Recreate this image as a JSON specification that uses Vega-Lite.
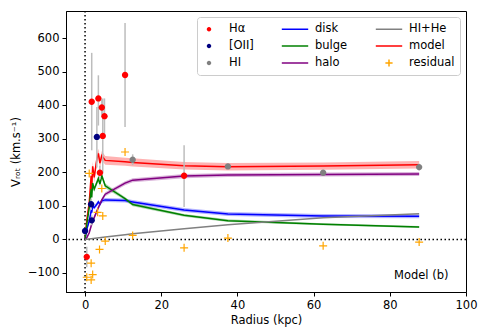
{
  "$schema": "https://vega.github.io/schema/vega-lite/v6.json",
  "width": 400,
  "height": 281,
  "autosize": "none",
  "padding": {"left": 66, "top": 11, "right": 20, "bottom": 42},
  "background": "white",
  "config": {
    "view": {"stroke": "black", "strokeWidth": 1},
    "font": "DejaVu Sans",
    "axis": {"labelFont": "DejaVu Sans", "labelFontSize": 11.5, "labelColor": "black", "titleFont": "DejaVu Sans", "titleFontSize": 11.5, "titleFontWeight": "normal", "titleColor": "black", "domainColor": "black", "tickColor": "black", "grid": false, "tickSize": 4, "labelPadding": 3, "labelFlush": false, "labelOverlap": false}
  },
  "datasets": {
    "obs": [
      {"r": 0.45, "v": -52, "lo": -83, "hi": -22, "series": "Hα"},
      {"r": 1.75, "v": 411, "lo": 266, "hi": 557, "series": "Hα"},
      {"r": 3.5, "v": 421, "lo": 340, "hi": 490, "series": "Hα"},
      {"r": 4.4, "v": 394, "lo": 370, "hi": 418, "series": "Hα"},
      {"r": 5.1, "v": 368, "lo": 315, "hi": 421, "series": "Hα"},
      {"r": 4.65, "v": 309, "lo": 197, "hi": 421, "series": "Hα"},
      {"r": 3.9, "v": 199, "lo": 180, "hi": 220, "series": "Hα"},
      {"r": 10.5, "v": 491, "lo": 336, "hi": 646, "series": "Hα"},
      {"r": 26, "v": 190, "lo": 97, "hi": 281, "series": "Hα"},
      {"r": 0, "v": 25, "lo": 15, "hi": 35, "series": "[OII]"},
      {"r": 1.75, "v": 57, "lo": 42, "hi": 72, "series": "[OII]"},
      {"r": 1.6, "v": 105, "lo": 88, "hi": 122, "series": "[OII]"},
      {"r": 3.1, "v": 306, "lo": 215, "hi": 395, "series": "[OII]"},
      {"r": 12.5, "v": 238, "lo": 222, "hi": 254, "series": "HI"},
      {"r": 37.5, "v": 218, "lo": 212, "hi": 224, "series": "HI"},
      {"r": 62.5, "v": 199, "lo": 195, "hi": 203, "series": "HI"},
      {"r": 87.7, "v": 216, "lo": 206, "hi": 226, "series": "HI"}
    ],
    "resid": [
      {"r": 10.5, "v": 261}, {"r": 12.5, "v": 12}, {"r": 26, "v": -25}, {"r": 37.5, "v": 4},
      {"r": 62.5, "v": -19}, {"r": 87.7, "v": -8}, {"r": 4.65, "v": 70}, {"r": 3.3, "v": 81},
      {"r": 3.8, "v": -30}, {"r": 5.3, "v": -5}, {"r": 1.6, "v": -71}, {"r": 2.0, "v": -105},
      {"r": 0.45, "v": -113}, {"r": 1.6, "v": -121}, {"r": 4.4, "v": 152}, {"r": 1.1, "v": 197}
    ],
    "comp": [
      {"r": 0, "series": "model", "v": 0, "lo": 0, "hi": 0},
      {"r": 0.45, "series": "model", "v": 57, "lo": 45, "hi": 69},
      {"r": 1.1, "series": "model", "v": 110, "lo": 97, "hi": 123},
      {"r": 1.6, "series": "model", "v": 190, "lo": 176, "hi": 204},
      {"r": 1.75, "series": "model", "v": 150, "lo": 136, "hi": 164},
      {"r": 2.0, "series": "model", "v": 218, "lo": 204, "hi": 232},
      {"r": 2.4, "series": "model", "v": 185, "lo": 171, "hi": 199},
      {"r": 3.1, "series": "model", "v": 240, "lo": 226, "hi": 254},
      {"r": 3.5, "series": "model", "v": 257, "lo": 243, "hi": 271},
      {"r": 3.9, "series": "model", "v": 228, "lo": 214, "hi": 242},
      {"r": 4.4, "series": "model", "v": 250, "lo": 236, "hi": 264},
      {"r": 5.3, "series": "model", "v": 236, "lo": 223, "hi": 249},
      {"r": 10.5, "series": "model", "v": 232, "lo": 220, "hi": 244},
      {"r": 12.5, "series": "model", "v": 230, "lo": 218, "hi": 242},
      {"r": 26, "series": "model", "v": 220, "lo": 209, "hi": 231},
      {"r": 37.5, "series": "model", "v": 217, "lo": 206, "hi": 228},
      {"r": 62.5, "series": "model", "v": 219, "lo": 208, "hi": 230},
      {"r": 87.7, "series": "model", "v": 223, "lo": 212, "hi": 234},
      {"r": 0, "series": "disk", "v": 0, "lo": 0, "hi": 0},
      {"r": 0.45, "series": "disk", "v": 30, "lo": 25, "hi": 35},
      {"r": 1.1, "series": "disk", "v": 55, "lo": 49, "hi": 61},
      {"r": 1.6, "series": "disk", "v": 85, "lo": 79, "hi": 91},
      {"r": 1.75, "series": "disk", "v": 80, "lo": 74, "hi": 86},
      {"r": 2.0, "series": "disk", "v": 100, "lo": 94, "hi": 106},
      {"r": 2.4, "series": "disk", "v": 95, "lo": 89, "hi": 101},
      {"r": 3.1, "series": "disk", "v": 105, "lo": 99, "hi": 111},
      {"r": 3.5, "series": "disk", "v": 112, "lo": 106, "hi": 118},
      {"r": 3.9, "series": "disk", "v": 105, "lo": 99, "hi": 111},
      {"r": 4.4, "series": "disk", "v": 115, "lo": 109, "hi": 121},
      {"r": 5.3, "series": "disk", "v": 118, "lo": 112, "hi": 124},
      {"r": 10.5, "series": "disk", "v": 116, "lo": 110, "hi": 122},
      {"r": 12.5, "series": "disk", "v": 112, "lo": 106, "hi": 118},
      {"r": 26, "series": "disk", "v": 88, "lo": 82, "hi": 94},
      {"r": 37.5, "series": "disk", "v": 76, "lo": 70, "hi": 82},
      {"r": 62.5, "series": "disk", "v": 70, "lo": 64, "hi": 76},
      {"r": 87.7, "series": "disk", "v": 69, "lo": 63, "hi": 75},
      {"r": 0, "series": "bulge", "v": 0, "lo": 0, "hi": 0},
      {"r": 0.45, "series": "bulge", "v": 45, "lo": 40, "hi": 50},
      {"r": 1.1, "series": "bulge", "v": 95, "lo": 89, "hi": 101},
      {"r": 1.6, "series": "bulge", "v": 150, "lo": 143, "hi": 157},
      {"r": 1.75, "series": "bulge", "v": 125, "lo": 118, "hi": 132},
      {"r": 2.0, "series": "bulge", "v": 168, "lo": 160, "hi": 176},
      {"r": 2.4, "series": "bulge", "v": 150, "lo": 142, "hi": 158},
      {"r": 3.1, "series": "bulge", "v": 170, "lo": 162, "hi": 178},
      {"r": 3.5, "series": "bulge", "v": 182, "lo": 174, "hi": 190},
      {"r": 3.9, "series": "bulge", "v": 165, "lo": 157, "hi": 173},
      {"r": 4.4, "series": "bulge", "v": 190, "lo": 182, "hi": 198},
      {"r": 5.3, "series": "bulge", "v": 160, "lo": 153, "hi": 167},
      {"r": 10.5, "series": "bulge", "v": 122, "lo": 117, "hi": 127},
      {"r": 12.5, "series": "bulge", "v": 104, "lo": 99, "hi": 109},
      {"r": 26, "series": "bulge", "v": 72, "lo": 68, "hi": 76},
      {"r": 37.5, "series": "bulge", "v": 56, "lo": 52, "hi": 60},
      {"r": 62.5, "series": "bulge", "v": 45, "lo": 42, "hi": 48},
      {"r": 87.7, "series": "bulge", "v": 37, "lo": 34, "hi": 40},
      {"r": 0, "series": "halo", "v": 0, "lo": 0, "hi": 0},
      {"r": 0.45, "series": "halo", "v": 5, "lo": 3, "hi": 7},
      {"r": 1.1, "series": "halo", "v": 20, "lo": 16, "hi": 24},
      {"r": 1.6, "series": "halo", "v": 40, "lo": 35, "hi": 45},
      {"r": 1.75, "series": "halo", "v": 45, "lo": 40, "hi": 50},
      {"r": 2.0, "series": "halo", "v": 55, "lo": 50, "hi": 60},
      {"r": 2.4, "series": "halo", "v": 65, "lo": 59, "hi": 71},
      {"r": 3.1, "series": "halo", "v": 85, "lo": 79, "hi": 91},
      {"r": 3.5, "series": "halo", "v": 95, "lo": 89, "hi": 101},
      {"r": 3.9, "series": "halo", "v": 105, "lo": 99, "hi": 111},
      {"r": 4.4, "series": "halo", "v": 118, "lo": 112, "hi": 124},
      {"r": 5.3, "series": "halo", "v": 135, "lo": 129, "hi": 141},
      {"r": 10.5, "series": "halo", "v": 168, "lo": 162, "hi": 174},
      {"r": 12.5, "series": "halo", "v": 177, "lo": 171, "hi": 183},
      {"r": 26, "series": "halo", "v": 189, "lo": 183, "hi": 195},
      {"r": 37.5, "series": "halo", "v": 192, "lo": 186, "hi": 198},
      {"r": 62.5, "series": "halo", "v": 194, "lo": 188, "hi": 200},
      {"r": 87.7, "series": "halo", "v": 195, "lo": 189, "hi": 201},
      {"r": 0, "series": "HI+He", "v": 0},
      {"r": 5.3, "series": "HI+He", "v": 7},
      {"r": 10.5, "series": "HI+He", "v": 14},
      {"r": 12.5, "series": "HI+He", "v": 17},
      {"r": 26, "series": "HI+He", "v": 32},
      {"r": 37.5, "series": "HI+He", "v": 44},
      {"r": 62.5, "series": "HI+He", "v": 65},
      {"r": 87.7, "series": "HI+He", "v": 77}
    ]
  },
  "layer": [
    {
      "data": {"values": [{"z": 0}]},
      "mark": {"type": "rule", "color": "black", "strokeWidth": 1.5, "strokeDash": [1.5, 2.5]},
      "encoding": {"x": {"field": "z", "type": "quantitative"}}
    },
    {
      "data": {"values": [{"z": 0}]},
      "mark": {"type": "rule", "color": "black", "strokeWidth": 1.5, "strokeDash": [1.5, 2.5]},
      "encoding": {"y": {"field": "z", "type": "quantitative"}}
    },
    {
      "data": {"name": "comp"},
      "mark": {"type": "area", "fillOpacity": 0.3},
      "encoding": {
        "x": {"field": "r", "type": "quantitative"},
        "y": {"field": "lo", "type": "quantitative"},
        "y2": {"field": "hi"},
        "fill": {"field": "series", "type": "nominal", "legend": null,
          "scale": {"domain": ["model", "disk", "bulge", "halo"],
                    "range": ["#ff0000", "#0000ff", "#008000", "#800080"]}}
      }
    },
    {
      "data": {"name": "comp"},
      "mark": {"type": "line", "strokeWidth": 1.5},
      "encoding": {
        "x": {"field": "r", "type": "quantitative"},
        "y": {"field": "v", "type": "quantitative"},
        "stroke": {"field": "series", "type": "nominal", "legend": null,
          "scale": {"domain": ["model", "disk", "bulge", "halo", "HI+He"],
                    "range": ["#ff0000", "#0000ff", "#008000", "#800080", "#808080"]}}
      }
    },
    {
      "data": {"name": "obs"},
      "mark": {"type": "rule", "color": "#bdbdbd", "strokeWidth": 1.5},
      "encoding": {
        "x": {"field": "r", "type": "quantitative"},
        "y": {"field": "lo", "type": "quantitative"},
        "y2": {"field": "hi"}
      }
    },
    {
      "data": {"name": "obs"},
      "mark": {"type": "point", "filled": true, "opacity": 1, "size": 650, "strokeWidth": 0},
      "encoding": {
        "x": {"field": "r", "type": "quantitative", "scale": {"domain": [-5, 100], "nice": false, "zero": false},
              "axis": {"values": [0, 20, 40, 60, 80, 100], "title": "Radius (kpc)", "titlePadding": 4}},
        "y": {"field": "v", "type": "quantitative", "scale": {"domain": [-157, 682], "nice": false, "zero": false},
              "axis": {"values": [-100, 0, 100, 200, 300, 400, 500, 600], "title": "Vᵣₒₜ (km.s⁻¹)", "titlePadding": 6}},
        "color": {"field": "series", "type": "nominal",
          "scale": {"domain": ["Hα", "[OII]", "HI", "disk", "bulge", "halo", "HI+He", "model", "residual"],
                    "range": ["#ff0000", "#000080", "#808080", "#0000ff", "#008000", "#800080", "#808080", "#ff0000", "#ffa500"]},
          "legend": {"title": null, "orient": "top-right", "offset": 6, "columns": 3, "columnPadding": 24, "rowPadding": 4, "padding": 5,
            "labelFont": "DejaVu Sans", "labelFontSize": 11.5, "labelColor": "black", "labelOffset": 13, "symbolSize": 144,
            "fillColor": "white", "strokeColor": "#cccccc", "cornerRadius": 3, "symbolStrokeWidth": 1.5, "symbolOpacity": 1,
            "encode": {"symbols": {"update": {"stroke": {"scale": "color", "field": "value"}, "strokeWidth": {"value": 1.5}}}}}},
        "shape": {"field": "series", "type": "nominal",
          "scale": {"domain": ["Hα", "[OII]", "HI", "disk", "bulge", "halo", "HI+He", "model", "residual"],
                    "range": ["M-0.25,0A0.25,0.25,0,1,1,0.25,0A0.25,0.25,0,1,1,-0.25,0Z", "M-0.25,0A0.25,0.25,0,1,1,0.25,0A0.25,0.25,0,1,1,-0.25,0Z", "M-0.25,0A0.25,0.25,0,1,1,0.25,0A0.25,0.25,0,1,1,-0.25,0Z",
                              "M-2.2,0H2.2", "M-2.2,0H2.2", "M-2.2,0H2.2", "M-2.2,0H2.2", "M-2.2,0H2.2", "M-0.6,0H0.6M0,-0.6V0.6"]},
          "legend": {"title": null, "orient": "top-right", "offset": 6, "columns": 3, "columnPadding": 24, "rowPadding": 4, "padding": 5,
            "labelFont": "DejaVu Sans", "labelFontSize": 11.5, "labelColor": "black", "labelOffset": 13, "symbolSize": 144,
            "fillColor": "white", "strokeColor": "#cccccc", "cornerRadius": 3, "symbolStrokeWidth": 1.5, "symbolOpacity": 1,
            "encode": {"symbols": {"update": {"stroke": {"scale": "color", "field": "value"}, "strokeWidth": {"value": 1.5}}}}}}
      }
    },
    {
      "data": {"name": "resid"},
      "mark": {"type": "point", "shape": "M-1,0H1M0,-1V1", "size": 64, "filled": false, "opacity": 1, "color": "#ffa500", "strokeWidth": 1.2},
      "encoding": {
        "x": {"field": "r", "type": "quantitative"},
        "y": {"field": "v", "type": "quantitative"}
      }
    },
    {
      "data": {"values": [{"r": 95.4, "v": -108, "t": "Model (b)"}]},
      "mark": {"type": "text", "align": "right", "baseline": "middle", "font": "DejaVu Sans", "fontSize": 11.5, "color": "black"},
      "encoding": {
        "x": {"field": "r", "type": "quantitative"},
        "y": {"field": "v", "type": "quantitative"},
        "text": {"field": "t"}
      }
    }
  ]
}
